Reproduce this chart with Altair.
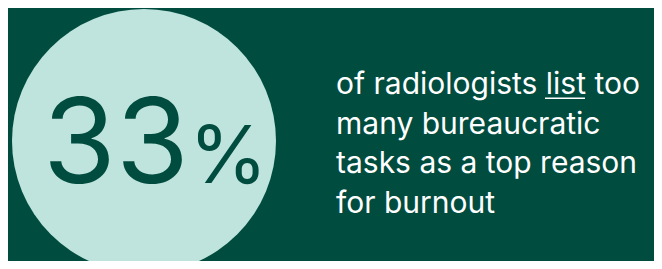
import altair as alt
import pandas as pd

# ---- content ----
stat_value = ["33"]
stat_unit = ["%"]
label_lines = [
    "of radiologists list too",
    "many bureaucratic",
    "tasks as a top reason",
    "for burnout",
]
underlined_word = ["list"]

# ---- layout / style ----
PAGE_MARGIN = 8
W, H = 662 - 2 * PAGE_MARGIN, 269 - 2 * PAGE_MARGIN
BG = "#004C3F"
MINT = "#BEE4DD"
TEXT_LIGHT = "#FFFFFF"
FONT = "Inter"

circle_cx, circle_cy, circle_r = 144, 141, 132
line_x, line_y0, line_step = 336, 94, 39.7
label_size = 30

# scales map reference-image pixel coordinates onto the plot area
xs = alt.Scale(domain=[PAGE_MARGIN, PAGE_MARGIN + W], range=[0, W])
ys = alt.Scale(domain=[PAGE_MARGIN, PAGE_MARGIN + H], range=[0, H])


def X(f):
    return alt.X(f, type="quantitative", scale=xs, axis=None)


def Y(f):
    return alt.Y(f, type="quantitative", scale=ys, axis=None)


circle_df = pd.DataFrame({"x": [circle_cx], "y": [circle_cy]})
circle = alt.Chart(circle_df).mark_circle(
    size=(2 * circle_r) ** 2, color=MINT, opacity=1, clip=True
).encode(x=X("x"), y=Y("y"))

num_df = pd.DataFrame({"t": stat_value, "x": [43], "y": [183]})
num = alt.Chart(num_df).mark_text(
    align="left", baseline="alphabetic", font=FONT, fontSize=118, color=BG
).encode(x=X("x"), y=Y("y"), text="t")

unit_df = pd.DataFrame({"t": stat_unit, "x": [189], "y": [183]})
unit = alt.Chart(unit_df).mark_text(
    align="left", baseline="alphabetic", font=FONT, fontSize=80, color=BG
).encode(x=X("x"), y=Y("y"), text="t")

lines_df = pd.DataFrame({
    "t": label_lines,
    "x": [line_x] * len(label_lines),
    "y": [line_y0 + line_step * i for i in range(len(label_lines))],
})
lines = alt.Chart(lines_df).mark_text(
    align="left", baseline="alphabetic", font=FONT, fontSize=label_size,
    color=TEXT_LIGHT
).encode(x=X("x"), y=Y("y"), text="t")

ul_df = pd.DataFrame({"w": underlined_word, "x": [545], "x2": [585], "y": [98.3]})
underline = alt.Chart(ul_df).mark_rule(color=TEXT_LIGHT, strokeWidth=1.6).encode(
    x=X("x"), x2="x2", y=Y("y")
)

chart = alt.layer(circle, num, unit, lines, underline).properties(
    width=W, height=H, background=BG, padding=0,
    autosize=alt.AutoSizeParams(type="none"),
).configure_view(stroke=None)

chart.save("out.html", embed_options={"renderer": "svg", "actions": False})
